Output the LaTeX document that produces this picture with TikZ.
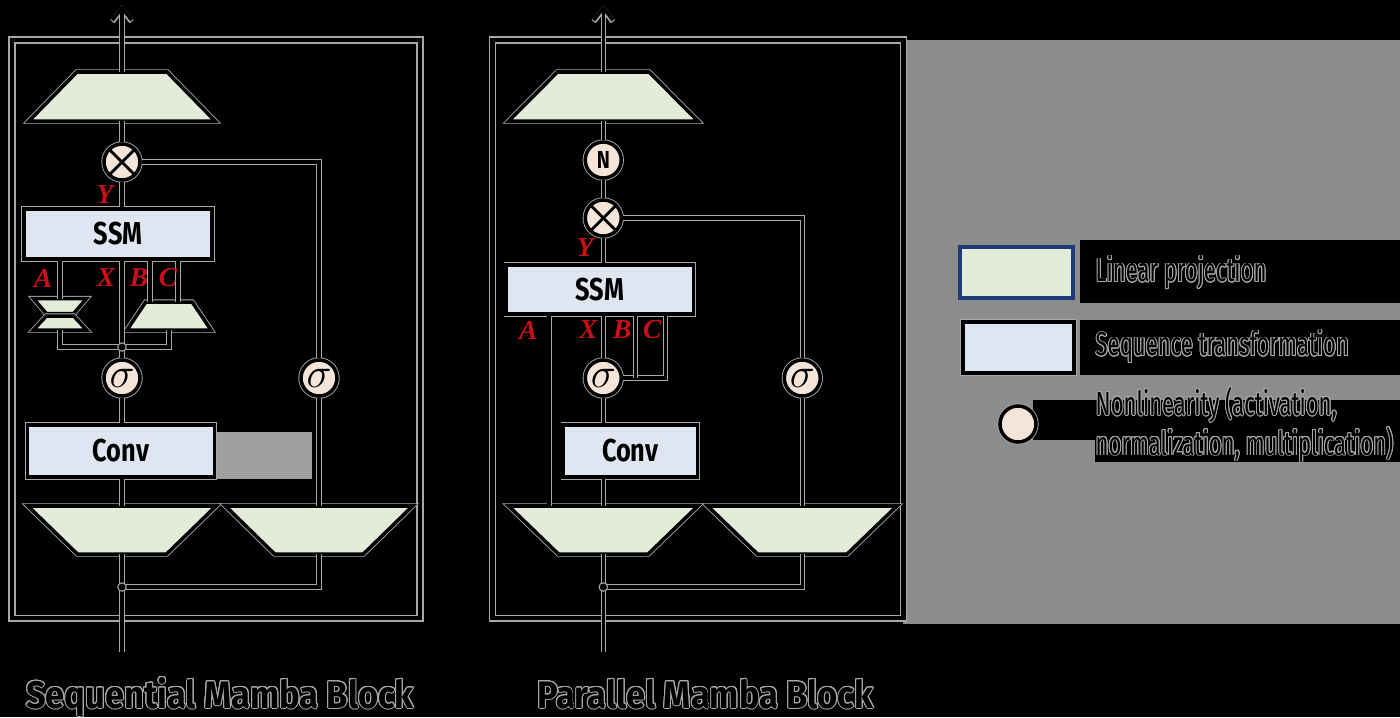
\documentclass[tikz,border=0pt]{standalone}
\usepackage{fontspec}
\setmainfont{Fira Sans}
\newfontfamily\condfont[FakeStretch=0.9]{Fira Sans}
\newfontfamily\boxfont[FakeStretch=0.8]{Fira Sans}
\newfontfamily\legfont[FakeStretch=0.66]{Fira Sans}
\newfontfamily\lblfont{Liberation Serif}
\usepackage[copies]{contour}
\contourlength{0.28pt}
\usetikzlibrary{shapes.geometric,arrows.meta,positioning}

\definecolor{projgreen}{HTML}{E3ECD9}
\definecolor{seqblue}{HTML}{DFE6F2}
\definecolor{nonlin}{HTML}{F5E5D9}
\definecolor{halogray}{HTML}{A8A8A8}
\definecolor{panelgray}{HTML}{8C8C8C}
\definecolor{lblred}{HTML}{C8101A}
\definecolor{navyedge}{HTML}{1E3A78}

\tikzset{
	halo/.style={preaction={draw=halogray,line width=#1}},
	halo/.default=1.5pt,
	wire/.style={draw=black,line width=1pt,halo},
	proj/.style={trapezium,trapezium stretches=true,fill=projgreen,draw=black,line width=1pt,halo,inner sep=0.3pt,outer sep=0pt},
	projup/.style={proj,trapezium left angle=#1,trapezium right angle=#1},
	projup/.default=62,
	projdown/.style={proj,trapezium left angle=#1,trapezium right angle=#1},
	projdown/.default=118,
	seq/.style={rectangle,fill=seqblue,draw=black,line width=1pt,halo,inner sep=0pt,font=\boxfont\bfseries\fontsize{9}{9}\selectfont},
	op/.style={circle,fill=nonlin,draw=black,line width=1pt,halo,minimum size=0.36cm,inner sep=0pt},
	mult/.style={op,path picture={
		\draw[line width=0.8pt] (path picture bounding box.south west) -- (path picture bounding box.north east)
		(path picture bounding box.north west) -- (path picture bounding box.south east);}},
	sig/.style={op,font=\fontsize{12}{12}\selectfont},
	dot/.style={circle,fill=black,draw=halogray,line width=0.3pt,inner sep=0pt,minimum size=0.085cm},
	lbl/.style={text=lblred,inner sep=0pt,font=\lblfont\bfseries\itshape\fontsize{7.8}{7.8}\selectfont},
	blockframe/.style={draw=black,line width=1.4pt,halo=2pt},
	blocktitle/.style={anchor=base,inner sep=0pt,font=\condfont\bfseries\fontsize{10.9}{11}\selectfont},
	legtext/.style={anchor=west,inner sep=0pt,align=left,font=\legfont\fontsize{9.5}{9.6}\selectfont},
	outarrow/.style={-{Straight Barb[length=3.5pt,width=5.5pt]}},
}

\begin{document}
\begin{tikzpicture}[x=0.01cm,y=-0.01cm]
\useasboundingbox (0,0) rectangle (1400,717);
\fill[black] (0,0) rectangle (1400,717);
\fill[panelgray] (903,40) rectangle (1400,624);
\fill[gray!75] (214,432) rectangle (312,479);

% sequential block
\draw[blockframe] (12,40) rectangle (420,618);
\node[projup,minimum width=1.86cm,minimum height=0.49cm] (sUp) at (122,96.5) {};
\node[mult] (sMul) at (122,162) {};
\node[seq,minimum width=1.88cm,minimum height=0.5cm] (sSSM) at (118,234) {SSM};
\node[projdown=115,minimum width=0.53cm,minimum height=0.15cm] (sHgTop) at (60,306) {};
\node[projup=65,minimum width=0.53cm,minimum height=0.14cm] (sHgBot) at (60,323) {};
\node[projup=68,minimum width=0.84cm,minimum height=0.28cm] (sBC) at (169,316) {};
\node[sig] (sSigA) at (122,378) {$\sigma$};
\node[sig] (sSigB) at (319,378) {$\sigma$};
\node[seq,minimum width=1.87cm,minimum height=0.52cm] (sConv) at (121,451) {Conv};
\node[projdown=119,minimum width=1.88cm,minimum height=0.48cm] (sDownA) at (122,530) {};
\node[projdown=119,minimum width=1.87cm,minimum height=0.48cm] (sDownB) at (319,530) {};
\coordinate (sOut) at (122,5);
\coordinate (sIn) at (122,652);
\coordinate (sJ) at (122,587);
\coordinate (sJx) at (122,347);
\coordinate (sBin) at ([xshift=-0.19cm]sBC.north);
\coordinate (sCin) at ([xshift=0.09cm]sBC.north);

\draw[wire,outarrow] (sUp) -- (sOut);
\draw[wire] (sMul) -- (sUp);
\draw[wire] (sMul) -- (sMul |- sSSM.north);
\draw[wire] (sMul) -| (sSigB);
\draw[wire] (sHgTop) -- (sHgTop |- sSSM.south);
\foreach \p in {sBin,sCin}{
	\draw[wire] (\p) -- (\p |- sSSM.south);
}
\draw[wire] (sHgBot) |- (sJx) -| (sBC);
\draw[wire] (sSigA) -- (sSigA |- sSSM.south);
\draw[wire] (sSigA) -- (sSigA |- sConv.north);
\draw[wire] (sSigA |- sConv.south) -- (sDownA);
\draw[wire] (sSigB) -- (sDownB);
\draw[wire] (sIn) -- (sDownA);
\draw[wire] (sDownB) |- (sJ);
\node[dot] (sJdot) at (sJ) {};
\node[dot] (sJxdot) at (sJx) {};

\node[lbl] (sLblY) at (105,195) {Y};
\foreach \l/\x in {A/43,X/106,B/139,C/168}{
	\node[lbl] (sLbl\l) at (\x,278) {\l};
}
\node[blocktitle] (sTitle) at (220,708) {\contour{halogray}{Sequential Mamba Block}};

% parallel block
\begin{scope}[xshift=4.81cm]
\draw[blockframe] (11,40) rectangle (422,618);
\node[projup,minimum width=1.89cm,minimum height=0.49cm] (pUp) at (122,96.5) {};
\node[op,font=\boxfont\bfseries\fontsize{7}{7}\selectfont] (pNorm) at (122,160) {N};
\node[mult] (pMul) at (122,218) {};
\node[seq,minimum width=1.87cm,minimum height=0.49cm] (pSSM) at (118.5,289.5) {SSM};
\node[sig] (pSigA) at (122,378) {$\sigma$};
\node[sig] (pSigB) at (321,378) {$\sigma$};
\node[seq,minimum width=1.34cm,minimum height=0.52cm] (pConv) at (149,451) {Conv};
\node[projdown=119,minimum width=1.89cm,minimum height=0.48cm] (pDownA) at (122,530) {};
\node[projdown=119,minimum width=1.89cm,minimum height=0.48cm] (pDownB) at (321,530) {};
\coordinate (pOut) at (122,5);
\coordinate (pIn) at (122,652);
\coordinate (pJ) at (122,587);
\coordinate (pAin) at ([xshift=-0.505cm]pSSM.south);
\coordinate (pBin) at ([xshift=0.355cm]pSSM.south);
\coordinate (pCin) at ([xshift=0.655cm]pSSM.south);

\draw[wire,outarrow] (pUp) -- (pOut);
\draw[wire] (pNorm) -- (pUp);
\draw[wire] (pMul) -- (pNorm);
\draw[wire] (pMul) -- (pMul |- pSSM.north);
\draw[wire] (pMul) -| (pSigB);
\draw[wire] (pSigA) -- (pSigA |- pSSM.south);
\draw[wire] (pCin) |- (pSigA);
\draw[wire] (pBin) -- (pBin |- pSigA);
\draw[wire] (pAin) -- (pAin |- pDownA.north);
\draw[wire] (pSigA) -- (pSigA |- pConv.north);
\draw[wire] (pSigA |- pConv.south) -- (pDownA);
\draw[wire] (pSigB) -- (pDownB);
\draw[wire] (pIn) -- (pDownA);
\draw[wire] (pDownB) |- (pJ);
\node[dot] (pJdot) at (pJ) {};

\node[lbl] (pLblY) at (104,248) {Y};
\foreach \l/\x in {A/47,X/107,B/141,C/171}{
	\node[lbl] (pLbl\l) at (\x,330) {\l};
}
\node[blocktitle] (pTitle) at (224,708) {\contour{halogray}{Parallel Mamba Block}};
\end{scope}

% legend
\fill[black] (1080,240) rectangle (1400,303);
\fill[black] (1080,320) rectangle (1400,375);
\fill[black] (1033,400) rectangle (1400,440);
\fill[black] (1095,440) rectangle (1400,462);
\node[rectangle,fill=projgreen,draw=navyedge,line width=1pt,minimum width=1.13cm,minimum height=0.51cm] (legProj) at (1016.5,272.5) {};
\node[seq,minimum width=1.11cm,minimum height=0.51cm] (legSeq) at (1018.5,347.5) {};
\node[op] (legOp) at (1018,424) {};
\node[legtext] (legProjText) at (1095,273) {\contour{halogray}{Linear projection}};
\node[legtext] (legSeqText) at (1095,347) {\contour{halogray}{Sequence transformation}};
\node[legtext] (legOpText) at (1095,425) {\contour{halogray}{Nonlinearity (activation,}\\\contour{halogray}{normalization, multiplication)}};

\end{tikzpicture}
\end{document}
